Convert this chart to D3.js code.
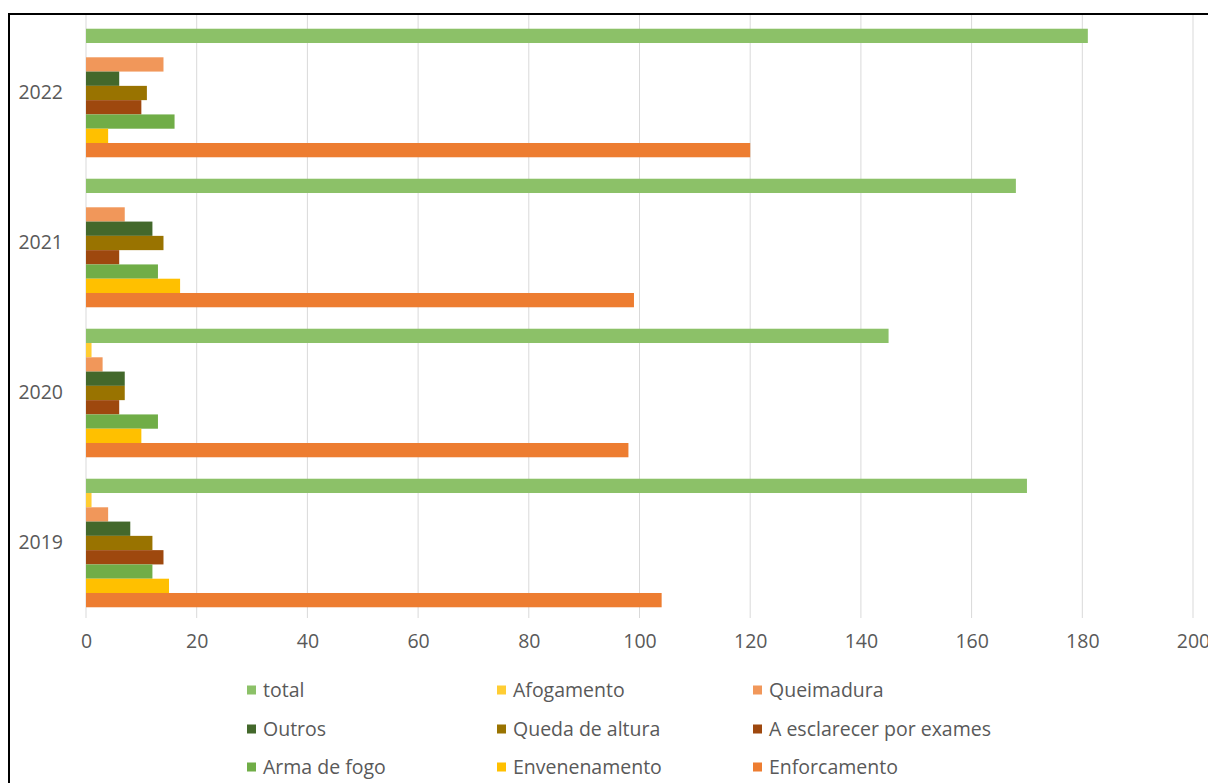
<!DOCTYPE html>
<meta charset="UTF-8">
<style>

body {
  margin: 0;
  background: #fff;
}

.grid line {
  stroke: #d9d9d9;
  stroke-width: 1px;
}

.axis text, .legend text {
  font: 19.5px "Open Sans", sans-serif;
  fill: #595959;
}

</style>

<body>

<!-- load the d3.js library -->
<script src="https://d3js.org/d3.v7.min.js"></script>
<script>

// categories, top to bottom as drawn
var years = ["2022", "2021", "2020", "2019"];

// one array per series, same order as years
var total = [181, 168, 145, 170];
var afogamento = [0, 0, 1, 1];
var queimadura = [14, 7, 3, 4];
var outros = [6, 12, 7, 8];
var quedaDeAltura = [11, 14, 7, 12];
var esclarecer = [10, 6, 6, 14];
var armaDeFogo = [16, 13, 13, 12];
var envenenamento = [4, 17, 10, 15];
var enforcamento = [120, 99, 98, 104];

var seriesNames = ["total", "Afogamento", "Queimadura", "Outros", "Queda de altura",
  "A esclarecer por exames", "Arma de fogo", "Envenenamento", "Enforcamento"];
var seriesValues = [total, afogamento, queimadura, outros, quedaDeAltura,
  esclarecer, armaDeFogo, envenenamento, enforcamento];
var seriesColors = ["#8cc168", "#ffcd33", "#f1975a", "#43682b", "#997300",
  "#9e480e", "#70ad47", "#ffc000", "#ed7d31"];

var xTicks = [0, 20, 40, 60, 80, 100, 120, 140, 160, 180, 200];

// Set the dimensions of the page and plot area
var width = 1208,
    height = 783,
    plot = {left: 86, right: 1193, top: 18, bottom: 618};

var svg = d3.select("body").append("svg")
    .attr("width", width)
    .attr("height", height);

// outer frame (right and bottom edges fall outside the picture)
svg.append("rect")
    .attr("x", 9)
    .attr("y", 14)
    .attr("width", 1300)
    .attr("height", 900)
    .attr("fill", "#fff")
    .attr("stroke", "#000")
    .attr("stroke-width", 2);

// scales
var x = d3.scaleLinear().domain([0, 200]).range([plot.left, plot.right]);

var y0 = d3.scaleBand()
    .domain(years)
    .range([plot.top, plot.bottom])
    .paddingInner(0.143)
    .paddingOuter(0.0715);

var y1 = d3.scaleBand()
    .domain(seriesNames)
    .range([0, y0.bandwidth()]);

// vertical gridlines
svg.append("g")
    .attr("class", "grid")
    .selectAll("line")
    .data(xTicks)
    .enter().append("line")
    .attr("x1", function(d) { return x(d); })
    .attr("x2", function(d) { return x(d); })
    .attr("y1", 15)
    .attr("y2", plot.bottom);

// ****************** bars ***************************
var groups = svg.append("g").selectAll("g")
    .data(years)
    .enter().append("g")
    .attr("transform", function(d) { return "translate(0," + y0(d) + ")"; });

groups.selectAll("rect")
    .data(function(year, i) {
      return seriesNames.map(function(name, s) {
        return {name: name, value: seriesValues[s][i], color: seriesColors[s]};
      });
    })
    .enter().append("rect")
    .attr("x", x(0))
    .attr("y", function(d) { return y1(d.name); })
    .attr("height", y1.bandwidth())
    .attr("width", function(d) { return x(d.value) - x(0); })
    .attr("fill", function(d) { return d.color; });

// x axis labels (no line, no ticks)
var xAxis = svg.append("g")
    .attr("class", "axis")
    .attr("transform", "translate(0,634)")
    .call(d3.axisBottom(x).tickValues(xTicks).tickSize(0).tickPadding(0));
xAxis.select(".domain").remove();
xAxis.selectAll("text").attr("font-size", null).attr("font-family", null).attr("dy", "0.71em");

// y axis labels
var yAxis = svg.append("g")
    .attr("class", "axis")
    .attr("transform", "translate(63,0)")
    .call(d3.axisLeft(y0).tickSize(0).tickPadding(0));
yAxis.select(".domain").remove();
yAxis.selectAll("text").attr("font-size", null).attr("font-family", null);

// ****************** legend ***************************
var legendCols = [247, 497, 753],
    legendRows = [690, 729, 767];

var legend = svg.append("g")
    .attr("class", "legend")
    .selectAll("g")
    .data(seriesNames)
    .enter().append("g")
    .attr("transform", function(d, i) {
      return "translate(" + legendCols[i % 3] + "," + legendRows[Math.floor(i / 3)] + ")";
    });

legend.append("rect")
    .attr("x", 0)
    .attr("y", -4.5)
    .attr("width", 9)
    .attr("height", 9)
    .attr("fill", function(d, i) { return seriesColors[i]; });

legend.append("text")
    .attr("x", 16)
    .attr("dy", "0.35em")
    .text(function(d) { return d; });

</script>
</body>
